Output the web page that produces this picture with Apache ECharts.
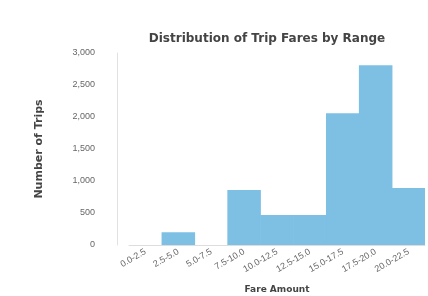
<!DOCTYPE html>
<html lang="en">
<head>
    <meta charset="UTF-8">
    <title>trip_hist</title>
    <script src="https://cdn.jsdelivr.net/npm/echarts@6/dist/echarts.min.js"></script>
</head>
<body style="margin:0">
<div id="main" style="width:428px;height:296px;"></div>
<script>
    // bins and counts
    var binLabels = ['0.0-2.5', '2.5-5.0', '5.0-7.5', '7.5-10.0', '10.0-12.5', '12.5-15.0', '15.0-17.5', '17.5-20.0', '20.0-22.5'];
    var tripCounts = [0, 200, 0, 860, 470, 470, 2060, 2810, 890];
    var yMin = 0, yMax = 3000, yStep = 500;

    var chart = echarts.init(document.getElementById('main'));
    chart.setOption({
        title: {
            text: 'Distribution of Trip Fares by Range',
            left: 262,
            top: 28,
            textAlign: 'center',
            textStyle: {fontFamily: 'DejaVu Sans', fontSize: 12, fontWeight: 'bold', color: '#444'}
        },
        grid: {left: 129, right: 3, top: 53, bottom: 51, outerBoundsMode: 'none', containLabel: false},
        xAxis: {
            type: 'category',
            data: binLabels,
            name: 'Fare Amount',
            nameLocation: 'middle',
            nameGap: 40,
            nameTextStyle: {fontFamily: 'DejaVu Sans', fontSize: 9, fontWeight: 'bold', color: '#444'},
            axisLine: {lineStyle: {color: '#ddd'}},
            axisTick: {show: false},
            axisLabel: {rotate: 30, fontSize: 9, color: '#666', interval: 0, margin: 6}
        },
        yAxis: {
            type: 'value',
            min: yMin, max: yMax, interval: yStep,
            offset: 12,
            name: 'Number of Trips',
            nameLocation: 'middle',
            nameGap: 72,
            nameTextStyle: {fontFamily: 'DejaVu Sans', fontSize: 11, fontWeight: 'bold', color: '#444'},
            axisLine: {show: true, lineStyle: {color: '#e2e2e2'}},
            axisTick: {show: false},
            splitLine: {show: false},
            axisLabel: {fontSize: 9, color: '#666', margin: 22}
        },
        series: [{
            type: 'bar',
            data: tripCounts,
            barCategoryGap: '-2%',
            itemStyle: {color: '#7dc0e4'}
        }]
    });
</script>
</body>
</html>
